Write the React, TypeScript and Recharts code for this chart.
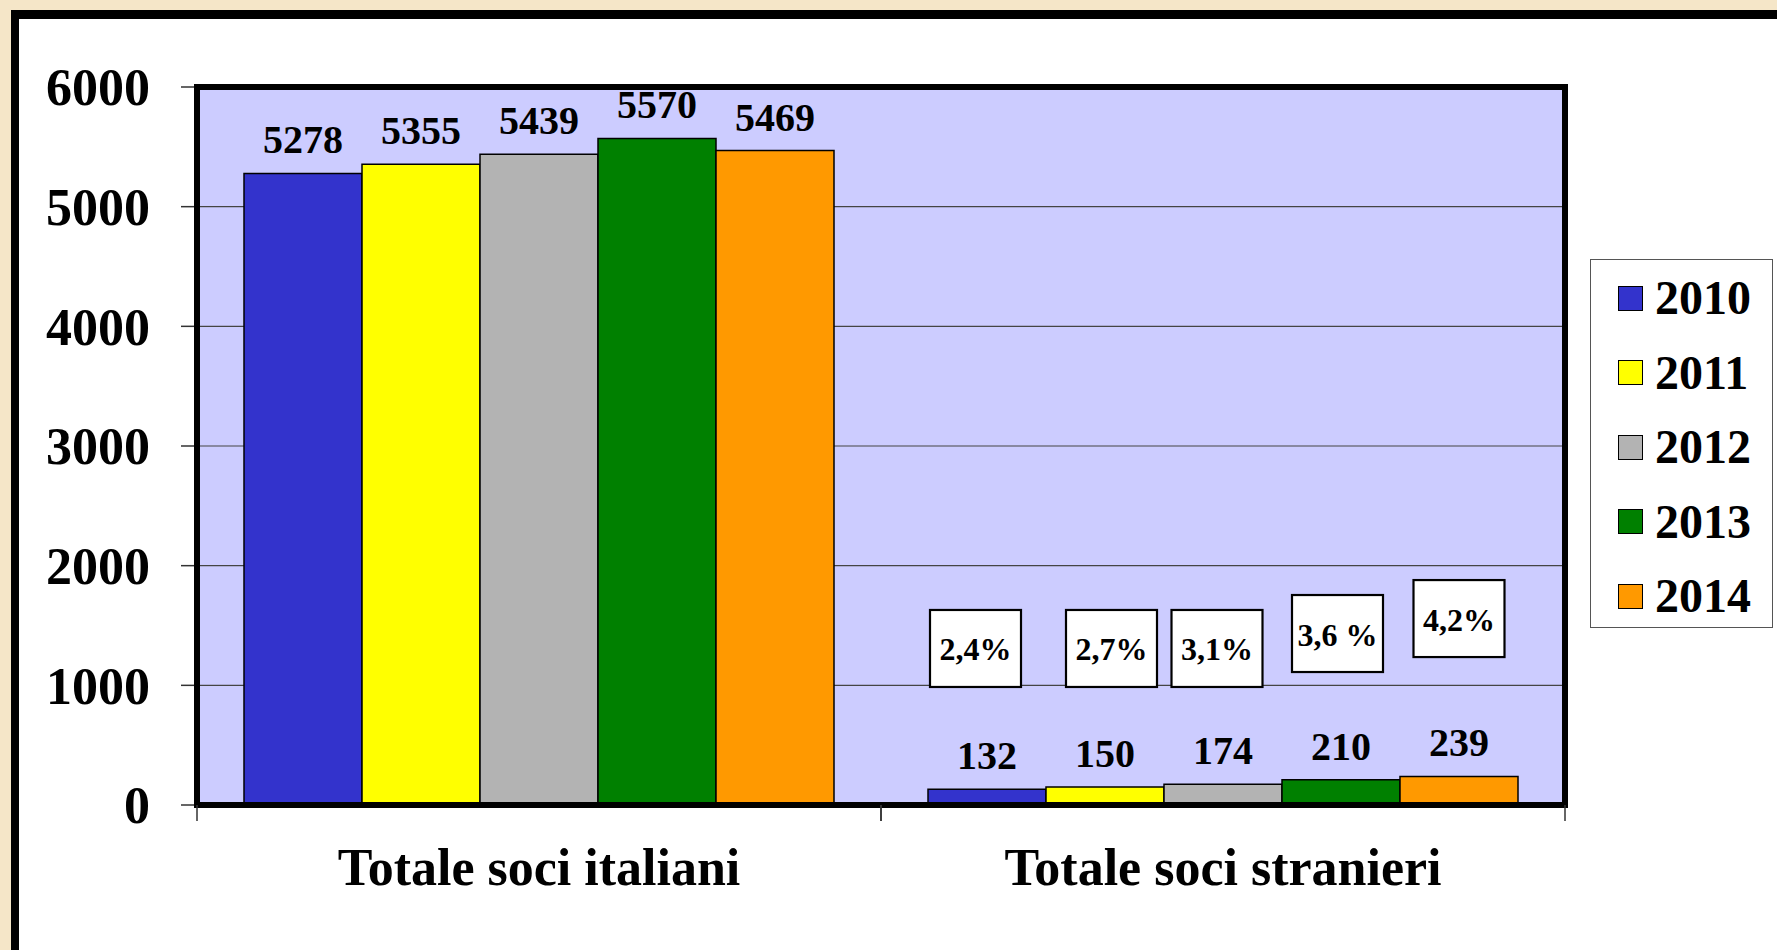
import { Bar, BarChart, CartesianGrid, LabelList, Legend, ReferenceArea, XAxis, YAxis } from "recharts";

const categories = ["Totale soci italiani", "Totale soci stranieri"];
const years = ["2010", "2011", "2012", "2013", "2014"];
const soci2010 = [5278, 132];
const soci2011 = [5355, 150];
const soci2012 = [5439, 174];
const soci2013 = [5570, 210];
const soci2014 = [5469, 239];
const stranieriPct = ["2,4%", "2,7%", "3,1%", "3,6 %", "4,2%"];
const yTicks = [0, 1000, 2000, 3000, 4000, 5000, 6000];

const series = [soci2010, soci2011, soci2012, soci2013, soci2014];
const colors = ["#3333cc", "#ffff00", "#b3b3b3", "#008000", "#ff9900"];

const data = categories.map((name, i) => {
  const row: Record<string, string | number> = { name };
  years.forEach((y, k) => (row["y" + y] = series[k][i]));
  return row;
});

// layout
const W = 1777;
const H = 950;
const margin = { top: 87, right: 212, bottom: 85, left: 47 };
const Y_AXIS_W = 150;
const BAND = (W - margin.left - Y_AXIS_W - margin.right) / categories.length;
const FONT = '"Liberation Serif", "Times New Roman", serif';

// % boxes over the "stranieri" bars: shift from bar centre (px), centre height in axis units
const pctBoxDx = [-11.5, 6.5, -6, -3.5, 0];
const pctBoxLevel = [1308, 1308, 1308, 1433, 1558];
const BOX_W = 91;
const BOX_H = 77;

const pctBox = (k: number) => (props: any) => {
  const idx = props.index ?? (props.value === series[k][1] ? 1 : 0);
  if (idx !== 1) return null;
  const vb = props.viewBox ?? props;
  const h = Math.abs(vb.height);
  const perUnit = h / Number(props.value);
  const bottom = vb.y + h;
  const cx = vb.x + vb.width / 2 + pctBoxDx[k];
  const cy = bottom - pctBoxLevel[k] * perUnit;
  return (
    <g>
      <rect x={cx - BOX_W / 2} y={cy - BOX_H / 2} width={BOX_W} height={BOX_H} fill="#fff" stroke="#000" strokeWidth={2.2} />
      <text x={cx} y={cy + 12} textAnchor="middle" fontFamily={FONT} fontWeight="bold" fontSize={32} fill="#000">
        {stranieriPct[k]}
      </text>
    </g>
  );
};

const CategoryTick = (props: any) => {
  const { x, y, payload } = props;
  const half = BAND / 2;
  return (
    <g>
      <line x1={x - half} x2={x - half} y1={y} y2={y + 16} stroke="#333" strokeWidth={1.5} />
      <line x1={x + half} x2={x + half} y1={y} y2={y + 16} stroke="#333" strokeWidth={1.5} />
      <text x={x} y={y + 80} textAnchor="middle" fontFamily={FONT} fontWeight="bold" fontSize={52} fill="#000">
        {payload.value}
      </text>
    </g>
  );
};

const LegendBox = () => (
  <div
    style={{
      boxSizing: "border-box",
      width: 183,
      height: 369,
      border: "1.5px solid #555",
      background: "#fff",
      paddingTop: 1,
    }}
  >
    {years.map((y, k) => (
      <div key={y} style={{ display: "flex", alignItems: "center", height: 74.5, paddingLeft: 27 }}>
        <span
          style={{
            display: "inline-block",
            boxSizing: "border-box",
            width: 25,
            height: 25,
            background: colors[k],
            border: "1.5px solid #000",
            marginRight: 12,
          }}
        />
        <span style={{ fontFamily: FONT, fontWeight: "bold", fontSize: 48, lineHeight: 1, color: "#000" }}>{y}</span>
      </div>
    ))}
  </div>
);

export default function App() {
  return (
    <div style={{ position: "fixed", left: 0, top: 0, width: W, height: H, overflow: "hidden", background: "#f5e6c8" }}>
      <div
        style={{
          position: "absolute",
          left: 11,
          top: 10,
          width: 1850,
          height: 1000,
          background: "#fff",
          borderLeft: "8px solid #000",
          borderTop: "9px solid #000",
        }}
      />
      <div style={{ position: "absolute", left: 0, top: 0 }}>
        <BarChart width={W} height={H} data={data} margin={margin} barCategoryGap={47} barGap={0}>
          <CartesianGrid vertical={false} fill="#ccccff" fillOpacity={1} stroke="#444" strokeWidth={1.2} />
          <XAxis
            dataKey="name"
            height={60}
            axisLine={false}
            tickLine={false}
            tickSize={0}
            tickMargin={0}
            interval={0}
            tick={<CategoryTick />}
          />
          <YAxis
            width={Y_AXIS_W}
            domain={[0, 6000]}
            ticks={yTicks}
            interval={0}
            axisLine={false}
            tickLine={{ stroke: "#333", strokeWidth: 1.5 }}
            tickSize={16}
            tickMargin={31}
            tick={{ fontFamily: FONT, fontWeight: "bold", fontSize: 52, fill: "#000" }}
          />
          {years.map((y, k) => (
            <Bar
              key={y}
              dataKey={"y" + y}
              name={y}
              fill={colors[k]}
              stroke="#000"
              strokeWidth={1.5}
              isAnimationActive={false}
            >
              <LabelList
                dataKey={"y" + y}
                position="top"
                offset={20}
                fontFamily={FONT}
                fontWeight="bold"
                fontSize={40}
                fill="#000"
              />
              <LabelList dataKey={"y" + y} content={pctBox(k)} />
            </Bar>
          ))}
          <ReferenceArea
            y1={0}
            y2={6000}
            fill="none"
            fillOpacity={0}
            stroke="#000"
            strokeWidth={6}
            ifOverflow="visible"
            zIndex={1500}
          />
          <Legend
            layout="vertical"
            align="center"
            verticalAlign="middle"
            wrapperStyle={{ left: 1590, top: 259, width: 183, height: 369 }}
            content={<LegendBox />}
          />
        </BarChart>
      </div>
    </div>
  );
}
